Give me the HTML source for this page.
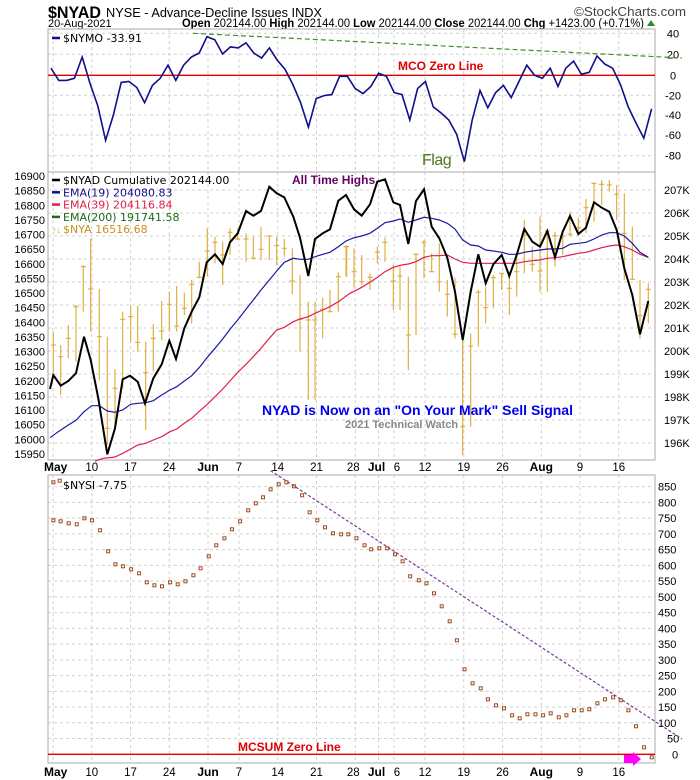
<!DOCTYPE html>
<html><head><meta charset="utf-8"><style>
body{margin:0;background:#fff;width:700px;height:780px;overflow:hidden}
svg{display:block}
text{font-family:"Liberation Sans",Arial,sans-serif}
.ax{font-size:11px;fill:#000}
.lg{font-family:"DejaVu Sans",sans-serif;font-size:11px}
</style></head><body>
<svg id="s" width="700" height="780" xmlns="http://www.w3.org/2000/svg">
<rect width="700" height="780" fill="#fff"/>
<text x="48" y="18" font-size="17" font-weight="bold" textLength="53" lengthAdjust="spacingAndGlyphs">$NYAD</text>
<text x="106" y="17" font-size="13" textLength="216" lengthAdjust="spacingAndGlyphs">NYSE - Advance-Decline Issues INDX</text>
<text x="48" y="27" font-size="11">20-Aug-2021</text>
<text x="182" y="27" font-size="11.5" textLength="462" lengthAdjust="spacingAndGlyphs"><tspan font-weight="bold">Open</tspan> 202144.00 <tspan font-weight="bold">High</tspan> 202144.00 <tspan font-weight="bold">Low</tspan> 202144.00 <tspan font-weight="bold">Close</tspan> 202144.00 <tspan font-weight="bold">Chg</tspan> +1423.00 (+0.71%)</text>
<polygon points="647,26 651,20 655,26" fill="#2a8a2a"/>
<text x="574" y="16" font-size="12.5" fill="#444" textLength="112" lengthAdjust="spacingAndGlyphs">©StockCharts.com</text>
<g id="g"></g>
</svg>
<script>
var S='';
function L(x1,y1,x2,y2,st,w,d){S+='<line x1="'+x1+'" y1="'+y1+'" x2="'+x2+'" y2="'+y2+'" stroke="'+st+'" stroke-width="'+(w||1)+'"'+(d?' stroke-dasharray="'+d+'"':'')+'/>';}
function T(x,y,t,a){S+='<text x="'+x+'" y="'+y+'" '+(a||'class="ax"')+'>'+t+'</text>';}
var X0=48,X1=655;
var grid=[{i:0,l:'May',b:1},{i:5,l:'10'},{i:10,l:'17'},{i:15,l:'24'},{i:20,l:'Jun',b:1},{i:24,l:'7'},{i:29,l:'14'},{i:34,l:'21'},{i:39,l:'28'},{i:42,l:'Jul',b:1},{i:44,l:'6'},{i:48,l:'12'},{i:53,l:'19'},{i:58,l:'26'},{i:63,l:'Aug',b:1},{i:68,l:'9'},{i:73,l:'16'}];
function gx(i){return 53+i*7.75;}
function panel(y0,y1,hs){
 hs.forEach(function(y){L(X0,y,X1,y,'#d0d0d0',1,'3,3');});
 grid.forEach(function(g){L(gx(g.i),y0,gx(g.i),y1,'#d0d0d0',1,'3,3');});
 S+='<rect x="'+X0+'" y="'+y0+'" width="'+(X1-X0)+'" height="'+(y1-y0)+'" fill="none" stroke="#aaa"/>';
}
function xlabels(y){grid.forEach(function(g){var x=gx(g.i);
 if(g.b){var xx=g.l=='Jul'?x-2:x; T(g.i==0?44:xx,y,g.l,'font-size="12" font-weight="bold" text-anchor="'+(g.i==0?'start':'middle')+'"');}
 else{var off=g.l=='6'?3:(g.l=='28'?-2:0);T(x+off,y,g.l,'font-size="11.5" text-anchor="middle"');}});}
/* top panel */
var ty=[33.3,54.3,75.3,95.3,115,135,155.7],tl=['40','20','0','-20','-40','-60','-80'];
panel(29,172,ty);
ty.forEach(function(y,k){T(673,y+4,tl[k],'class="ax" text-anchor="middle"');});
L(X0,75.3,X1,75.3,'#e00000',1.3);
L(193,33.3,682,58,'#4a8a30',1.2,'5,3');
var nymo=[7,-5,-5,-3,18,-8,-30,-64,-39,-7,-6,-12,-27,-10,-3,10,-5,10,18,22,38,35,21,28,27,32,22,17,27,15,6,-9,-27,-51,-23,-20,-19,-1,-1,-13,-18,-11,2,-1,-17,-19,-44,-13,-6,-31,-37,-44,-58,-85,-44,-15,-32,-17,-10,-22,-6,10,0,-3,7,-11,7,14,1,3,19,11,7,-9,-31,-47,-62,-33];
var p=nymo.map(function(v,i){return (51+i*7.8).toFixed(1)+','+(75.3-v*1.015).toFixed(1);}).join(' ');
S+='<polyline points="'+p+'" fill="none" stroke="#10108a" stroke-width="1.6"/>';
L(52,38,60,38,'#10108a',2.5);T(63,42,'$NYMO -33.91','class="lg"');
T(398,70,'MCO Zero Line','font-size="12" font-weight="bold" fill="#e00000"');
T(422,165,'Flag','font-size="16" fill="#4a7a20" style="letter-spacing:-0.5px"');
/* middle panel */
var mh=[];for(var k=196;k<=207;k++)mh.push(190+(207-k)*23);
panel(172,460,mh);
for(var k=196;k<=207;k++)T(664,190+(207-k)*23+4,k+'K','class="ax"');
for(var k=0;k<20;k++)T(45,176+k*14.63+4,16900-k*50,'class="ax" text-anchor="end"');
xlabels(471);
function zp(arr,ox){var o=[];for(var j=0;j<arr.length;j+=2)o.push((arr[j]/3+ox).toFixed(1)+','+(arr[j+1]/3+165).toFixed(1));return o;}
var b2=[160,500,620,540,182,540,690,575,205,480,580,520,228,420,590,425,250,300,440,305,272,220,500,372,298,372,645,515,322,515,840,790,345,612,780,670,368,440,670,463,392,423,530,455,413,423,560,532,437,530,795,623,460,477,620,520,485,408,525,498,508,380,500,418,530,363,500,483,553,383,450,430,575,345,475,358,598,290,340,337,622,190,335,258,645,215,295,232,668,230,360,270,690,190,270,202,713,190,225,222,738,205,290,222,760,215,280,280,783,185,285,253,808,212,285,213,830,215,300,242,853,222,275,250,877,250,388,348,900,330,560,463,925,410,705,465,945,410,705,465,968,398,520,433,990,375,440,440,1015,322,440,335,1038,240,335,245];
var b4=[20,245,335,245,42,250,368,320,65,270,360,350,90,325,375,337,112,245,295,262,135,218,290,232,160,300,435,348,180,305,435,333,205,335,615,510,228,265,510,268,252,225,340,232,275,265,320,320,298,235,380,350,322,345,455,388,345,338,520,508,368,520,870,785,392,505,785,543,415,375,545,382,437,365,475,428,460,330,430,338,485,325,375,325,508,320,450,370,530,263,395,320,553,165,325,210,577,245,320,298,600,155,380,318,622,198,380,198,645,200,305,212,668,202,270,213,690,140,215,208,715,158,212,188,738,102,205,128,762,55,170,55,785,45,120,58,808,45,80,60,830,60,165,88,853,85,345,205,877,185,345,343,900,345,522,452,925,355,475,373];
function bars(a,ox){for(var j=0;j<a.length;j+=4){var x=a[j]/3+ox,h=a[j+1]/3+165,l=a[j+2]/3+165,c=a[j+3]/3+165;L(x,h,x,l,'#e0b040',1.2);L(x-2.5,c,x+2.5,c,'#e0b040',1.2);}}
bars(b2,0);bars(b4,340);
var red2=[285,888,310,880,345,876,368,865,392,852,413,840,437,835,460,825,485,815,510,800,530,792,553,775,575,760,600,737,622,718,645,695,668,672,690,648,713,622,738,598,760,575,783,550,808,520,830,495,853,487,880,470,900,462,925,455,945,445,968,435,990,425,1015,410,1050,385];
var red4=[30,385,60,370,90,352,115,335,135,320,160,307,185,300,205,297,228,290,252,277,275,272,298,272,322,270,345,282,368,292,392,295,415,295,437,295,460,295,485,295,508,295,530,295,553,290,577,287,600,285,622,280,645,278,668,275,690,270,715,265,738,262,762,255,785,248,808,243,830,240,853,245,877,255,900,268,925,277];
S+='<polyline points="'+zp(red2,0).concat(zp(red4,340)).join(' ')+'" fill="none" stroke="#e0204a" stroke-width="1.2"/>';
var bl2=[150,818,175,800,200,783,228,766,252,740,275,722,298,722,322,738,345,742,368,735,392,718,413,715,437,713,460,707,485,690,510,675,530,665,553,648,575,632,600,605,622,577,645,550,668,522,690,493,713,465,738,433,760,405,783,375,808,345,830,318,853,292,880,280,900,283,925,283,945,275,968,268,990,262,1015,245];
var bl4=[18,228,42,218,65,213,90,205,112,190,135,173,160,168,180,162,205,172,228,165,252,157,275,160,298,165,322,175,345,192,368,225,392,240,415,243,437,255,460,258,485,262,508,268,530,268,553,262,577,258,600,255,622,252,645,252,668,250,690,238,715,235,738,232,762,222,785,210,808,203,830,203,853,213,877,235,900,262,925,277];
S+='<polyline points="'+zp(bl2,0).concat(zp(bl4,340)).join(' ')+'" fill="none" stroke="#1a1aa0" stroke-width="1.2"/>';
var k2=[150,672,160,630,182,662,205,648,228,625,252,515,272,585,295,700,322,868,345,790,368,643,390,632,413,650,435,715,460,640,485,598,508,527,528,582,553,490,575,440,598,397,620,292,645,268,668,297,690,232,713,205,738,138,760,152,783,138,808,65,830,85,853,97,880,155,900,218,925,333,945,222,968,205,990,193,1015,107];
var k4=[18,90,42,133,65,152,90,118,112,50,135,43,160,112,180,120,205,237,228,108,252,73,275,185,298,220,322,278,345,380,368,525,392,380,415,268,437,355,460,298,485,270,508,333,530,270,553,192,577,230,600,245,622,198,645,277,668,200,690,153,715,207,738,188,762,112,785,128,808,140,830,195,853,310,877,390,900,508,925,408];
S+='<polyline points="'+zp(k2,0).concat(zp(k4,340)).join(' ')+'" fill="none" stroke="#000" stroke-width="2"/>';
var lg=[['#000','$NYAD Cumulative 202144.00','#000'],['#10108a','EMA(19) 204080.83','#10108a'],['#e0204a','EMA(39) 204116.84','#e0204a'],['#1a6a1a','EMA(200) 191741.58','#1a6a1a'],['#d8a030','$NYA 16516.68','#c89020']];
lg.forEach(function(r,k){var y=180+k*12.3;if(k<4)L(52,y,60,y,r[0],2.5);else T(52,y+4,'↑↓','font-size="9" fill="#d8a030"');T(63,y+4,r[1],'class="lg" fill="'+r[2]+'"');});
T(292,184,'All Time Highs','font-size="12" font-weight="bold" fill="#660066"');
T(262,415,'NYAD is Now on an "On Your Mark" Sell Signal','font-size="14" font-weight="bold" fill="#0000ee"');
T(345,428,'2021 Technical Watch','font-size="11" font-weight="bold" fill="#888"');
/* bottom */
var bh=[];for(var v=0;v<=850;v+=50)bh.push(754.3-v*0.3149);
panel(475,763,bh);
for(var v=0;v<=850;v+=50)T(v==0?672:(v<100?667:658),754.3-v*0.3149+4,v,'class="ax"');
xlabels(776);
L(X0,754.3,X1,754.3,'#e00000',1.3);
L(270.6,470.7,682,739,'#7a3a9a',1.2,'3,2');
var d=[119,211,135,214,153,220,171,223,188,205,205,211,223,241,241,304,257,343,274,349,292,358,310,370,327,397,344,406,361,409,379,397,396,403,413,394,431,376,447,355,465,319,482,286,500,265,517,238,535,214,553,181,570,160,586,142,603,118,621,103,638,97,655,109,673,136,690,187,707,211,724,232,742,250,760,253,776,253,794,265,812,286,827,298,845,295,863,295,880,313,897,334,914,379,933,391,950,400,967,430,984,469,1002,514,1018,571,1035,658,1053,700,1071,715,1087,748,1105,766,1123,775,1141,796,1158,805,1175,793,1193,793,1210,796,1227,790,1245,802,1262,796,1279,781,1296,781,1313,778,1331,760,1348,748,1366,742,1383,751,1400,781,1417,829,1435,892,1452,922,119,97,133,92];
for(var j=0;j<d.length;j+=2){var x=d[j]/2.228,y=450+d[j+1]/3;S+='<rect x="'+(x-1.5).toFixed(1)+'" y="'+(y-1.5).toFixed(1)+'" width="3" height="3" fill="none" stroke="#a04a20" stroke-width="1"/>';}
T(63,489,'$NYSI -7.75','class="lg"');
T(238,751,'MCSUM Zero Line','font-size="12" font-weight="bold" fill="#e00000"');
S+='<polygon points="624,755 633,755 633,752 641,759 633,766 633,763 624,763" fill="#ff00ff"/>';
document.getElementById('g').innerHTML=S;
</script>
</body></html>
